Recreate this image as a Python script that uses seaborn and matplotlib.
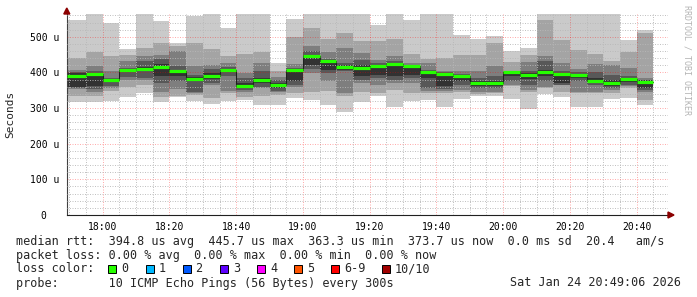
import numpy as np
import pandas as pd
import matplotlib
matplotlib.use("Agg")
import matplotlib.pyplot as plt
import seaborn as sns
from matplotlib.patches import Polygon, Rectangle
from matplotlib.ticker import FixedLocator

# ---------------- data (microseconds) ----------------
times = ["17:50", "17:55", "18:00", "18:05", "18:10", "18:15", "18:20", "18:25",
         "18:30", "18:35", "18:40", "18:45", "18:50", "18:55", "19:00", "19:05",
         "19:10", "19:15", "19:20", "19:25", "19:30", "19:35", "19:40", "19:45",
         "19:50", "19:55", "20:00", "20:05", "20:10", "20:15", "20:20", "20:25",
         "20:30", "20:35", "20:40"]

ping1 = [316, 318, 321, 332, 342, 318, 330, 321, 312, 321, 323, 309, 309, 328, 323, 309, 290, 318,
         334, 304, 321, 323, 302, 325, 334, 334, 325, 297, 340, 331, 304, 304, 325, 328, 309]
ping2 = [334, 334, 347, 360, 365, 332, 334, 337, 328, 342, 332, 334, 337, 342, 346, 347, 335, 346,
         342, 352, 342, 342, 342, 344, 340, 342, 362, 345, 355, 344, 342, 342, 342, 355, 323]
ping3 = [353, 345, 356, 380, 378, 345, 353, 342, 365, 349, 345, 356, 345, 360, 399, 377, 342, 370,
         365, 370, 370, 349, 349, 351, 346, 346, 365, 351, 360, 364, 346, 346, 351, 362, 346]
ping4 = [356, 354, 362, 387, 384, 370, 375, 346, 370, 390, 352, 360, 349, 366, 410, 398, 403, 380,
         385, 380, 384, 356, 354, 366, 355, 356, 375, 366, 375, 366, 375, 366, 356, 366, 350]
ping5 = [360, 362, 372, 402, 405, 389, 390, 375, 383, 402, 358, 370, 355, 375, 421, 407, 408, 389,
         393, 391, 393, 384, 362, 375, 361, 362, 389, 382, 389, 370, 384, 372, 361, 372, 356]
ping6 = [398, 399, 382, 409, 415, 425, 408, 386, 398, 410, 371, 384, 370, 408, 450, 435, 420, 421,
         421, 426, 419, 402, 398, 392, 375, 375, 400, 398, 407, 398, 396, 384, 380, 385, 378]
ping7 = [402, 403, 384, 412, 433, 437, 417, 392, 409, 415, 384, 403, 380, 412, 459, 437, 426, 435,
         426, 431, 421, 407, 400, 397, 384, 389, 402, 403, 432, 403, 400, 400, 393, 389, 380]
ping8 = [407, 417, 403, 433, 447, 449, 459, 419, 421, 426, 398, 426, 388, 424, 475, 456, 468, 454,
         435, 447, 426, 426, 403, 403, 403, 419, 405, 428, 447, 426, 409, 424, 421, 412, 384]
ping9 = [440, 456, 447, 450, 468, 484, 475, 484, 465, 445, 452, 456, 405, 499, 525, 493, 510, 487,
         487, 493, 452, 437, 440, 449, 449, 482, 428, 449, 548, 491, 463, 452, 433, 456, 510]
ping10 = [548, 600, 540, 465, 600, 545, 484, 557, 600, 526, 600, 600, 427, 550, 600, 600, 600, 600,
          534, 600, 546, 600, 600, 506, 493, 503, 459, 468, 600, 600, 600, 600, 600, 490, 518]
median = [389, 396, 379, 407, 411, 415, 404, 382, 390, 406, 363.3, 379, 365, 406, 445.7, 433, 416, 413,
          419, 424, 417, 400, 396, 389, 370, 370, 400, 393, 400, 395, 393, 375, 370, 381, 373.7]

legend_rtt = "median rtt:  394.8 us avg  445.7 us max  363.3 us min  373.7 us now  0.0 ms sd  20.4   am/s"
legend_loss = "packet loss: 0.00 % avg  0.00 % max  0.00 % min  0.00 % now"
loss_labels = ["0", "1", "2", "3", "4", "5", "6-9", "10/10"]
loss_colors = ["#26ff00", "#00b8ff", "#0059ff", "#5e00ff", "#ff00ff", "#ff5500", "#ff0000", "#a10000"]
legend_probe = "probe:       10 ICMP Echo Pings (56 Bytes) every 300s"
stamp = "Sat Jan 24 20:49:06 2026"

# ---------------- figure ----------------
sns.set_theme(style="white")
plt.rcParams["font.family"] = ["DejaVu Sans Mono"]

W, H = 697, 297
fig = plt.figure(figsize=(W / 100, H / 100), dpi=100)
fig.patch.set_facecolor("white")
L, R, T, B = 67, 668, 14, 215
ax = fig.add_axes([L / W, 1 - B / H, (R - L) / W, (B - T) / H])
ax.set_facecolor("white")

XMIN, XMAX = -10.7, 169.4
YMAX = 564

def tmin(s):
    h, m = s.split(":")
    return (int(h) - 18) * 60 + int(m)

starts = np.array([tmin(t) for t in times], dtype=float)
edges = np.append(starts, starts[-1] + 5)
edges[0] = XMIN

pings = [ping1, ping2, ping3, ping4, ping5, ping6, ping7, ping8, ping9, ping10]
half = 5
for i in range(1, half + 1):
    lo = np.array(pings[i - 1], dtype=float)
    hi = np.array(pings[10 - i], dtype=float)
    g = int(190 / half * (half - i)) + 50
    col = "#%02x%02x%02x" % (g, g, g)
    ax.fill_between(edges, np.append(lo, lo[-1]), np.append(hi, hi[-1]),
                    step="post", color=col, linewidth=0, zorder=1)

df = pd.DataFrame({"x": edges, "median": np.append(median, median[-1])})
sns.lineplot(data=df, x="x", y="median", ax=ax, drawstyle="steps-post",
             color="#202020", linewidth=0.75, estimator=None, zorder=3)
ax.hlines(median, edges[:-1], edges[1:], color=loss_colors[0], linewidth=2.3, zorder=4)

ax.set_xlim(XMIN, XMAX)
ax.set_ylim(0, YMAX)
ax.set_xlabel("")
ax.set_ylabel("")

xmaj = np.arange(0, 161, 20)
xmin_ = [v for v in np.arange(-10, 170, 5) if v % 20 != 0]
ymaj = np.arange(0, 501, 100)
ymin_ = [v for v in np.arange(20, 561, 20) if v % 100 != 0]
ax.xaxis.set_major_locator(FixedLocator(xmaj))
ax.xaxis.set_minor_locator(FixedLocator(xmin_))
ax.yaxis.set_major_locator(FixedLocator(ymaj))
ax.yaxis.set_minor_locator(FixedLocator(ymin_))
ax.set_xticklabels(["%02d:%02d" % ((18 * 60 + v) // 60, (18 * 60 + v) % 60) for v in xmaj])
ax.set_yticklabels([("%d u" % v) if v > 0 else "0  " for v in ymaj])

ax.set_axisbelow(False)
ax.grid(which="minor", color="#b8b8b8", alpha=0.85, linestyle=(0, (1, 1.5)), linewidth=0.72)
ax.grid(which="major", color="#ff0000", alpha=0.32, linestyle=(0, (1, 1.5)), linewidth=0.72)

ax.tick_params(which="major", direction="out", length=2.2, width=0.75, color="#404040",
               labelsize=7, labelcolor="black", pad=2.5)
ax.tick_params(which="minor", direction="out", length=1.4, width=0.75, color="#404040")
ax.tick_params(axis="y", which="major", pad=3.6)

for s in ["top", "right"]:
    ax.spines[s].set_visible(False)
ax.spines["left"].set_color("#404040")
ax.spines["bottom"].set_color("#202020")
ax.spines["left"].set_linewidth(0.8)
ax.spines["bottom"].set_linewidth(0.8)

def fx(x):
    return x / W

def fy(y):
    return 1 - y / H

# arrows
fig.patches.append(Polygon([(fx(66.8), fy(8.0)), (fx(63.8), fy(14.0)), (fx(69.8), fy(14.0))],
                           closed=True, transform=fig.transFigure, color="#8b0000"))
fig.patches.append(Polygon([(fx(674), fy(215)), (fx(668), fy(212)), (fx(668), fy(218))],
                           closed=True, transform=fig.transFigure, color="#8b0000"))

# y label and watermark
fig.text(fx(10.5), fy(114), "Seconds", rotation=90, ha="center", va="center", fontsize=8)
fig.text(fx(687), fy(60), "RRDTOOL / TOBI OETIKER", rotation=270, ha="center", va="center",
         fontsize=6, color="#b4b4b4")

# legend
fs = 8.5
fig.text(fx(16), fy(241), legend_rtt, ha="left", va="center", fontsize=fs)
fig.text(fx(16), fy(255.5), legend_loss, ha="left", va="center", fontsize=fs)
fig.text(fx(16), fy(269), "loss color:", ha="left", va="center", fontsize=fs)
box_x = [108, 145.5, 182.5, 219.7, 257, 294, 331.4, 381.7]
for bx, lab, c in zip(box_x, loss_labels, loss_colors):
    fig.patches.append(Rectangle((fx(bx), fy(273)), 8 / W, 8 / H, transform=fig.transFigure,
                                 facecolor=c, edgecolor="black", linewidth=0.7))
    fig.text(fx(bx + 13), fy(269), lab, ha="left", va="center", fontsize=fs)
fig.text(fx(16), fy(283), legend_probe, ha="left", va="center", fontsize=fs)
fig.text(fx(681), fy(283), stamp, ha="right", va="center", fontsize=fs)

fig.savefig("out.png", dpi=100, facecolor="white")
